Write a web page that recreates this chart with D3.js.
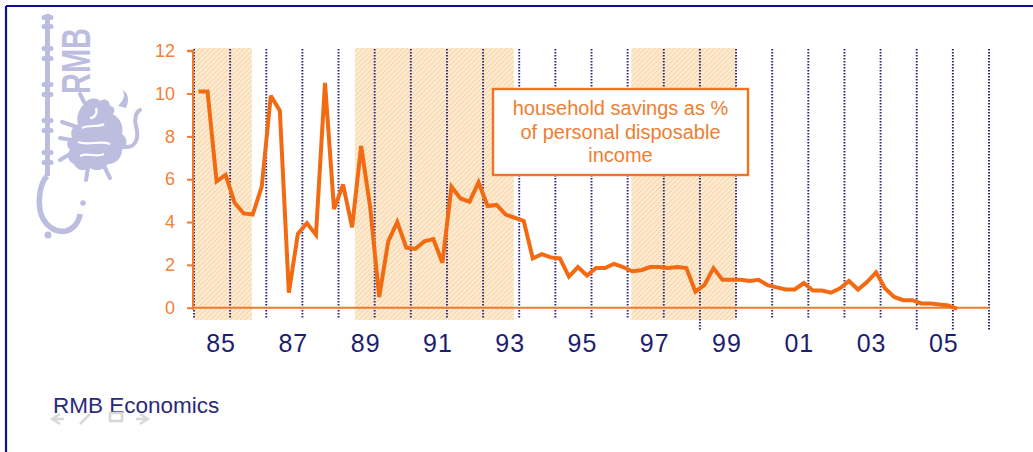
<!DOCTYPE html>
<html>
<head>
<meta charset="utf-8">
<script src="https://cdn.jsdelivr.net/npm/d3@7"></script>
<style>
  html, body { margin: 0; padding: 0; background: #ffffff; }
  svg { display: block; }
</style>
</head>
<body>
<svg id="chart" width="1033" height="452"></svg>
<script>
// Household savings as % of personal disposable income, quarterly, 1985Q1 - 2006Q1
const firstYear = 1985;
const savingsRatio = [
  10.1, 10.1, 5.9, 6.2, 4.9, 4.4, 4.35, 5.65,      // 1985-86
  9.9, 9.2, 0.7, 3.45, 3.95, 3.4, 10.5, 4.6,       // 1987-88
  5.75, 3.75, 7.55, 4.7, 0.5, 3.1, 4.0, 2.8,       // 1989-90
  2.75, 3.1, 3.2, 2.1, 5.65, 5.1, 4.95, 5.85,      // 1991-92
  4.75, 4.8, 4.35, 4.2, 4.05, 2.3, 2.5, 2.35,      // 1993-94
  2.3, 1.45, 1.9, 1.5, 1.85, 1.85, 2.05, 1.9,      // 1995-96
  1.7, 1.75, 1.9, 1.9, 1.85, 1.9, 1.85, 0.75,      // 1997-98
  1.05, 1.85, 1.3, 1.3, 1.3, 1.25, 1.3, 1.05,      // 1999-2000
  0.95, 0.85, 0.85, 1.15, 0.8, 0.8, 0.7, 0.9,      // 2001-02
  1.25, 0.85, 1.2, 1.65, 0.9, 0.5, 0.35, 0.35,     // 2003-04
  0.2, 0.2, 0.15, 0.1, -0.05                       // 2005-06Q1
];

// Shaded periods (start year, end year)
const shadedPeriods = [
  [1985.0, 1986.6],
  [1989.45, 1993.85],
  [1997.1, 2000.0]
];

// Year labels along the bottom
const yearTicks = [1985, 1987, 1989, 1991, 1993, 1995, 1997, 1999, 2001, 2003, 2005];
const yearLabels = ["85", "87", "89", "91", "93", "95", "97", "99", "01", "03", "05"];

// Vertical year rules
const ruleYears = d3.range(1985, 2008);
const longRuleYears = [1999, 2005, 2006, 2007];

const valueTicks = [0, 2, 4, 6, 8, 10, 12];

const noteLines = ["household savings as %", "of personal disposable", "income"];
const footer = "RMB Economics";

const svg = d3.select("#chart");

const x = d3.scaleLinear().domain([1985, 2007]).range([194, 989]);
const y = d3.scaleLinear().domain([0, 12]).range([307.7, 50.7]);

const orangeLine = "#f26a12";
const orangeAxis = "#f07a2c";
const orangeText = "#f08238";
const navy = "#1e1e6e";

// Frame
svg.append("line").attr("x1", 6).attr("y1", 6).attr("x2", 1033).attr("y2", 6)
  .attr("stroke", "#10108a").attr("stroke-width", 2.2);
svg.append("line").attr("x1", 6).attr("y1", 6).attr("x2", 6).attr("y2", 452)
  .attr("stroke", "#10108a").attr("stroke-width", 2.2);

// Faint corporate mark: key shaft, ring, lettering and rampant lion
const markColor = "#bdbde0";
const logo = svg.append("g").attr("fill", markColor).attr("stroke", markColor);
logo.append("rect").attr("x", 45).attr("y", 14).attr("width", 5).attr("height", 162).attr("stroke", "none");
[15, 24, 46, 56, 82, 92, 118, 128, 150, 160].forEach(v => {
  logo.append("rect").attr("x", 41.5).attr("y", v).attr("width", 12).attr("height", 5).attr("rx", 2.5).attr("stroke", "none");
});
logo.append("path")
  .attr("d", "M47,176 C40,184 38,198 40,210 C43,226 56,233 66,231 C74,229 79,222 80,214")
  .attr("fill", "none").attr("stroke-width", 5.5);
logo.append("circle").attr("cx", 48).attr("cy", 235).attr("r", 3.5).attr("stroke", "none");
logo.append("circle").attr("cx", 83).attr("cy", 203).attr("r", 2.8).attr("stroke", "none");
logo.append("text")
  .attr("transform", "translate(90,94) rotate(-90)")
  .attr("font-family", "Liberation Sans Narrow, Liberation Sans, Arial, sans-serif")
  .attr("font-weight", "bold")
  .attr("font-size", 40)
  .attr("textLength", 66)
  .attr("lengthAdjust", "spacingAndGlyphs")
  .attr("stroke", "none")
  .text("RMB");
// lion body
logo.append("path").attr("stroke", "none")
  .attr("d", "M84,104 C88,98 96,97 100,101 C104,98 110,100 110,106 C114,106 116,110 113,114 " +
             "C120,118 124,126 122,134 C128,138 128,146 122,150 C122,158 116,164 108,164 " +
             "C104,170 96,172 90,168 C84,172 76,170 74,164 C68,162 66,154 70,150 " +
             "C66,146 66,140 72,138 C70,132 72,126 78,124 C76,118 78,110 84,104 Z");
// inner gaps that break up the silhouette
const gaps = svg.append("g").attr("fill", "none").attr("stroke", "#ffffff").attr("stroke-width", 2.2);
gaps.append("path").attr("d", "M82,128 C90,124 98,128 104,124 M78,142 C88,146 100,140 110,144 M80,156 C88,152 96,158 104,154 M96,108 C98,114 94,118 90,118");
// tail, paws and tongue
logo.append("path").attr("stroke-width", 4).attr("fill", "none").attr("stroke-linecap", "round")
  .attr("d", "M122,146 C134,150 140,140 136,126 C134,118 136,112 140,110 " +
             "M74,126 L62,122 M72,140 L60,138 M70,154 L60,160 M88,168 L86,180 M104,166 L110,178 M84,102 L80,94");
logo.append("path").attr("stroke", "none")
  .attr("d", "M118,106 C124,100 126,94 122,90 C128,92 130,100 126,108 Z");

// Hatched fill for the shaded periods
const defs = svg.append("defs");
const pat = defs.append("pattern")
  .attr("id", "hatch")
  .attr("width", 3.5).attr("height", 3.5)
  .attr("patternUnits", "userSpaceOnUse")
  .attr("patternTransform", "rotate(45)");
pat.append("rect").attr("width", 3.5).attr("height", 3.5).attr("fill", "#fdead0");
pat.append("line").attr("x1", 0).attr("y1", 0).attr("x2", 0).attr("y2", 3.5)
  .attr("stroke", "#f4cb94").attr("stroke-width", 1.3);

svg.append("g").selectAll("rect")
  .data(shadedPeriods)
  .join("rect")
  .attr("x", d => x(d[0]))
  .attr("width", d => x(d[1]) - x(d[0]))
  .attr("y", 48)
  .attr("height", 272)
  .attr("fill", "url(#hatch)");

// Dotted year rules
svg.append("g").selectAll("line")
  .data(ruleYears)
  .join("line")
  .attr("x1", d => x(d)).attr("x2", d => x(d))
  .attr("y1", 49)
  .attr("y2", d => longRuleYears.includes(d) ? 330 : 319)
  .attr("stroke", "#28287c")
  .attr("stroke-width", 1.9)
  .attr("stroke-dasharray", "1.4,1.6");

// Value axis
const yAxis = svg.append("g")
  .attr("transform", `translate(${x(1985) - 1},0)`)
  .call(d3.axisLeft(y).tickValues(valueTicks).tickSize(6).tickPadding(12).tickFormat(d3.format("d")));
yAxis.select(".domain").attr("stroke", orangeAxis).attr("stroke-width", 2)
  .attr("d", `M-6,${y(12)}H0V${y(0) + 2}`);
yAxis.selectAll(".tick line").attr("stroke", orangeAxis).attr("stroke-width", 2);
yAxis.selectAll(".tick text")
  .attr("fill", orangeText)
  .attr("font-family", "Liberation Sans, Arial, sans-serif")
  .attr("font-size", 18);

// Zero line
svg.append("line")
  .attr("x1", x(1985) - 1).attr("x2", x(2007))
  .attr("y1", y(0)).attr("y2", y(0))
  .attr("stroke", orangeAxis).attr("stroke-width", 2);

// Year labels
svg.append("g").selectAll("text")
  .data(yearTicks)
  .join("text")
  .attr("x", (d) => x(d + 0.75))
  .attr("y", 352)
  .attr("text-anchor", "middle")
  .attr("fill", navy)
  .attr("font-family", "Liberation Sans, Arial, sans-serif")
  .attr("font-size", 25)
  .attr("letter-spacing", 1)
  .text((d, i) => yearLabels[i]);

// Savings line
const series = savingsRatio.map((v, i) => ({ t: firstYear + i / 4 + 0.125, v }));
svg.append("path")
  .datum(series)
  .attr("fill", "none")
  .attr("stroke", orangeLine)
  .attr("stroke-width", 4)
  .attr("stroke-linejoin", "miter")
  .attr("stroke-miterlimit", 3)
  .attr("d", d3.line().x(d => x(d.t)).y(d => y(d.v)));

// Note box
const note = svg.append("g");
note.append("rect")
  .attr("x", 493).attr("y", 89)
  .attr("width", 255).attr("height", 86)
  .attr("fill", "#ffffff")
  .attr("stroke", "#f07424")
  .attr("stroke-width", 2.4);
note.selectAll("text")
  .data(noteLines)
  .join("text")
  .attr("x", 620.5)
  .attr("y", (d, i) => 115 + i * 23.5)
  .attr("text-anchor", "middle")
  .attr("fill", "#ee7e32")
  .attr("font-family", "Liberation Sans, Arial, sans-serif")
  .attr("font-size", 20)
  .text(d => d);

// Footer
svg.append("text")
  .attr("x", 53).attr("y", 413)
  .attr("fill", "#2a2a7c")
  .attr("font-family", "Liberation Sans, Arial, sans-serif")
  .attr("font-size", 22.5)
  .text(footer);

// Faint slide navigation glyphs
const nav = svg.append("g").attr("fill", "none").attr("stroke", "#d8d8d8").attr("stroke-width", 2.5);
nav.append("path").attr("d", "M60,414 L52,419 L60,424 M52,419 L64,419");
nav.append("path").attr("d", "M80,424 L90,414");
nav.append("path").attr("d", "M110,413 H122 V421 H110 Z");
nav.append("path").attr("d", "M140,414 L148,419 L140,424 M136,419 L148,419");
</script>
</body>
</html>
